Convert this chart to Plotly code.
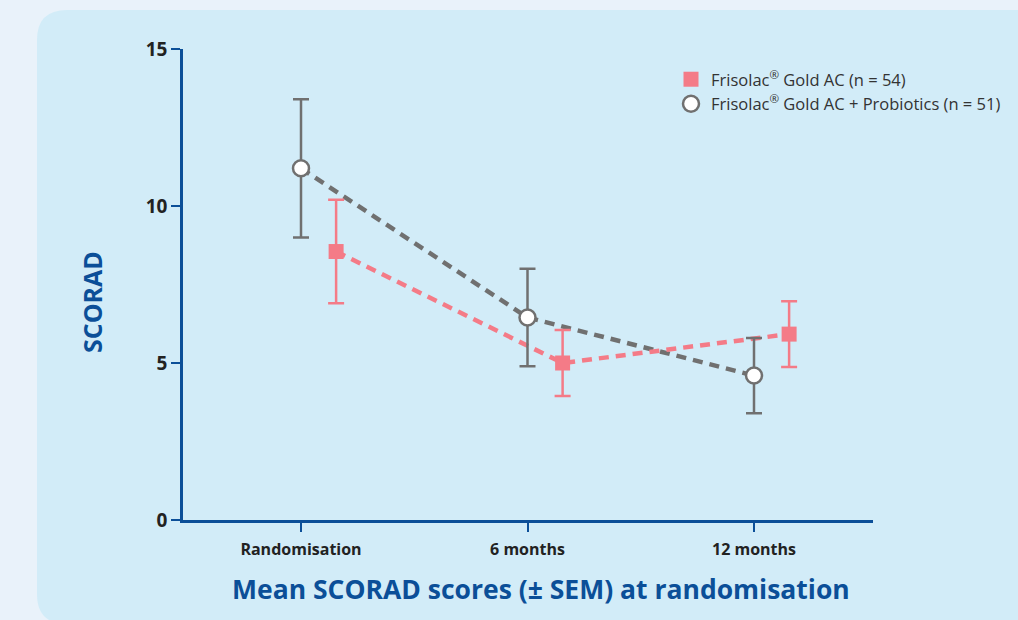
import plotly.graph_objects as go

categories = ["Randomisation", "6 months", "12 months"]
probio_mean = [11.2, 6.45, 4.6]
probio_sem = [2.2, 1.55, 1.2]
gold_mean = [8.55, 5.0, 5.92]
gold_sem = [1.65, 1.05, 1.05]
y_ticks = [0, 5, 10, 15]

series_names = ["Frisolac<sup>®</sup> Gold AC (n = 54)",
                "Frisolac<sup>®</sup> Gold AC + Probiotics (n = 51)"]

W, H = 1018, 620
L, R, T, B = 183, 145, 49, 100
pw, ph = W - L - R, H - T - B

def px_x(p):
    return (p - L) / pw

def px_y(p):
    return (H - B - p) / ph

BLUE = "#0b4f98"
GRAY = "#707070"
PINK = "#f47b87"

idx = list(range(len(categories)))
x_gray = [i for i in idx]
x_pink = [i + 0.155 for i in idx]

fig = go.Figure()

fig.add_trace(go.Scatter(x=x_gray, y=probio_mean, mode="lines",
                         line=dict(color=GRAY, width=4.5, dash="10px,7px"),
                         showlegend=False, hoverinfo="skip"))
fig.add_trace(go.Scatter(x=x_pink, y=gold_mean, mode="lines",
                         line=dict(color=PINK, width=4.5, dash="10px,7px"),
                         showlegend=False, hoverinfo="skip"))

fig.add_trace(go.Scatter(x=x_pink, y=gold_mean, mode="markers",
                         name=series_names[0],
                         marker=dict(symbol="square", size=15, color=PINK),
                         error_y=dict(type="data", array=gold_sem, color=PINK,
                                      thickness=2.5, width=8)))
fig.add_trace(go.Scatter(x=x_gray, y=probio_mean, mode="markers",
                         name=series_names[1],
                         marker=dict(symbol="circle", size=16, color="white",
                                     line=dict(color=GRAY, width=2.5)),
                         error_y=dict(type="data", array=probio_sem, color=GRAY,
                                      thickness=2.5, width=8)))

x_lo = (L - 301) / 226.5
x_hi = (W - R - 301) / 226.5

fig.update_layout(
    width=W, height=H,
    margin=dict(l=L, r=R, t=T, b=B),
    paper_bgcolor="#e9f2fa",
    plot_bgcolor="rgba(0,0,0,0)",
    font=dict(family="Open Sans, Noto Sans, sans-serif", color="#222222"),
    showlegend=True,
    legend=dict(x=px_x(671), y=px_y(62), xanchor="left", yanchor="top",
                bgcolor="rgba(0,0,0,0)", font=dict(size=16.5, color="#333333"),
                tracegroupgap=0, itemwidth=30),
    xaxis=dict(range=[x_lo, x_hi], tickmode="array", tickvals=idx,
               ticktext=[f"<b>{c}</b>" for c in categories],
               showgrid=False, zeroline=False, showline=True,
               linecolor=BLUE, linewidth=2.5, ticks="outside",
               tickcolor=BLUE, tickwidth=2, ticklen=9, ticklabelstandoff=4,
               tickfont=dict(size=16, color="#222222")),
    yaxis=dict(range=[0, 15], tickmode="array", tickvals=y_ticks,
               ticktext=[f"<b>{v}</b>" for v in y_ticks],
               showgrid=False, zeroline=False, showline=True,
               linecolor=BLUE, linewidth=2.5, ticks="outside",
               tickcolor=BLUE, tickwidth=2, ticklen=9,
               tickfont=dict(size=19, color="#222222")),
    shapes=[dict(type="path", xref="paper", yref="paper", layer="below",
                 path=(f"M {px_x(37)},{px_y(40)} "
                       f"Q {px_x(37)},{px_y(10)} {px_x(67)},{px_y(10)} "
                       f"L {px_x(1040)},{px_y(10)} L {px_x(1040)},{px_y(624)} "
                       f"L {px_x(67)},{px_y(624)} "
                       f"Q {px_x(37)},{px_y(624)} {px_x(37)},{px_y(594)} Z"),
                 fillcolor="#d2ecf8", line=dict(width=0))],
    annotations=[
        dict(text="<b>SCORAD</b>", xref="paper", yref="paper",
             x=px_x(92), y=px_y(302), textangle=-90, showarrow=False,
             font=dict(size=25, color=BLUE), xanchor="center", yanchor="middle"),
        dict(text="<b>Mean SCORAD scores (± SEM) at randomisation</b>",
             xref="paper", yref="paper", x=px_x(541), y=px_y(589),
             showarrow=False, font=dict(size=26.5, color=BLUE),
             xanchor="center", yanchor="middle"),
    ],
)

fig.write_html("out.html", config={"displayModeBar": False},
               post_script="document.body.style.margin='0';document.body.style.overflow='hidden';")
